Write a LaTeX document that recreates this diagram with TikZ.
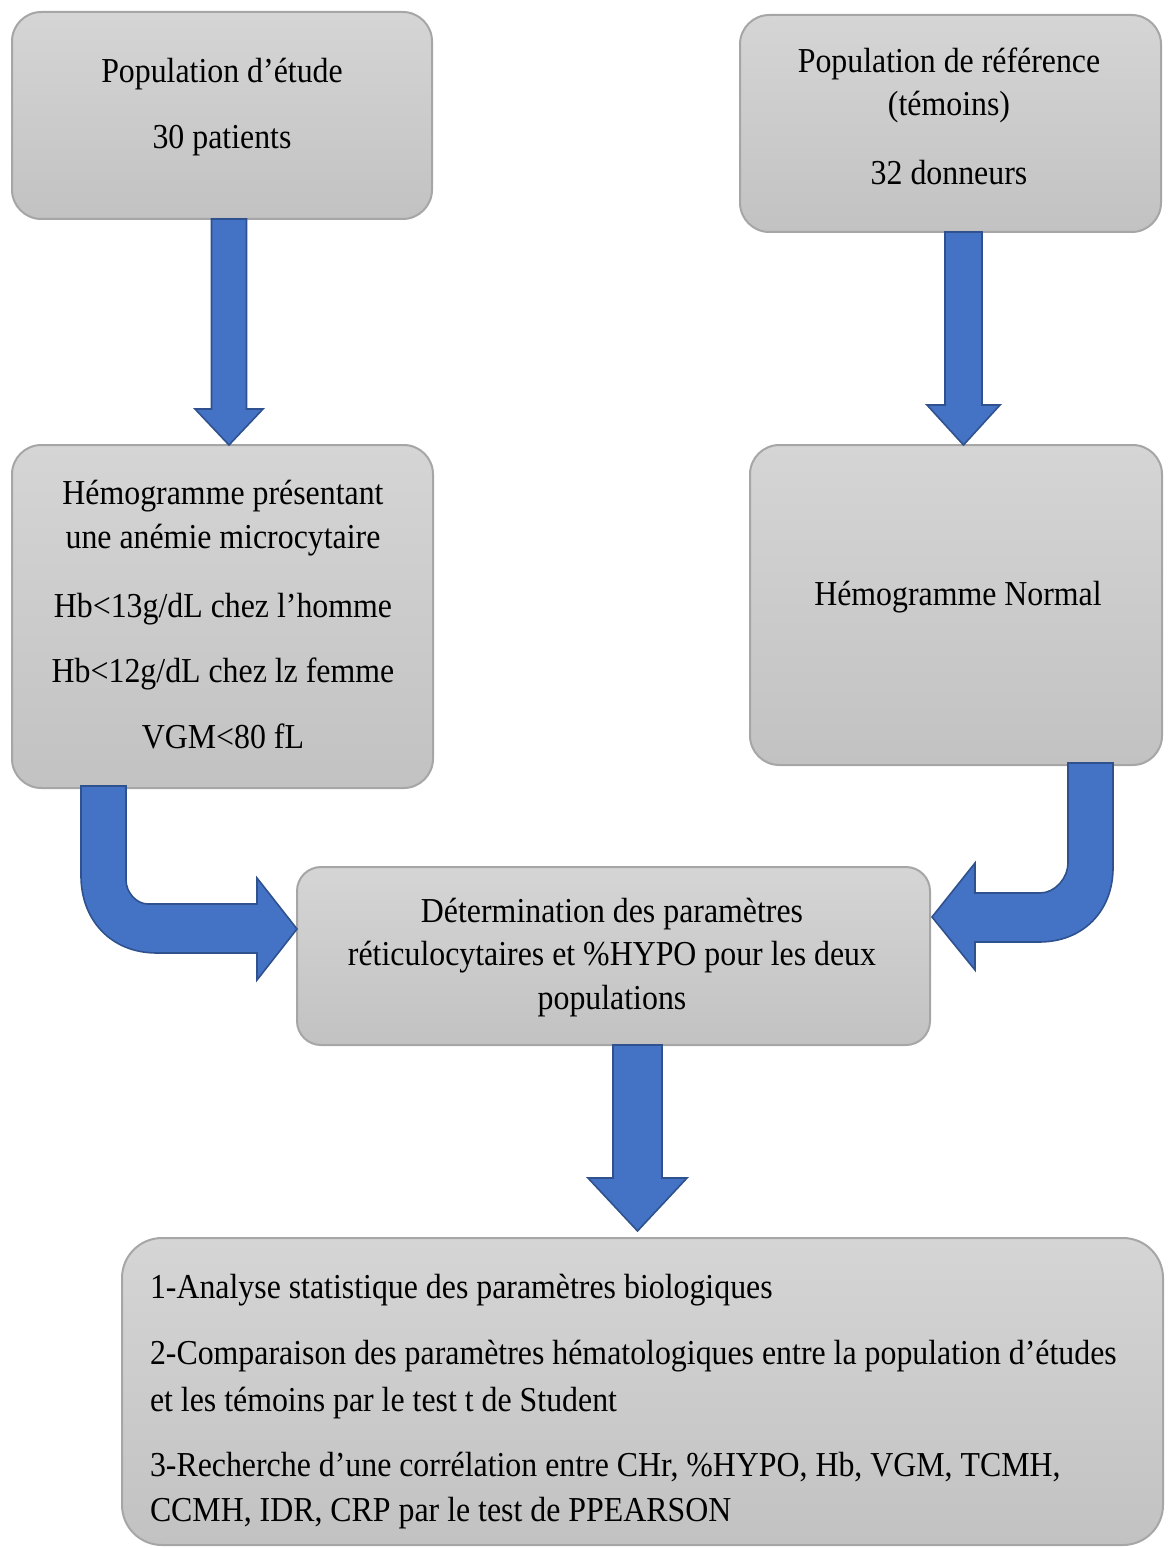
\documentclass[tikz,border=0pt]{standalone}
\usepackage{fontspec}
\setmainfont{Liberation Serif}[FakeStretch=0.91]
\usetikzlibrary{calc}
\definecolor{boxtop}{HTML}{D5D5D5}
\definecolor{boxbot}{HTML}{C2C2C2}
\definecolor{boxline}{HTML}{A6A6A6}
\definecolor{arrfill}{HTML}{4472C4}
\definecolor{arrline}{HTML}{2F528F}
\tikzset{
  box/.style={draw=boxline, line width=1.5pt, top color=boxtop, bottom color=boxbot,
    rounded corners=22pt, inner sep=0pt, outer sep=0pt},
  txt/.style={inner sep=0pt, outer sep=0pt, anchor=base,
    font=\fontsize{26.25pt}{31pt}\selectfont},
  ltxt/.style={txt, anchor=base west},
  barrow/.style={fill=arrfill, draw=arrline, line width=1.2pt, line join=miter},
}
\newcommand\downblock[5]{%
  \draw[barrow] ($(#1)+(-#3,0)$) -- ($(#2)+(-#3,-#5)$) -- ($(#2)+(-#4,-#5)$) -- (#2)
    -- ($(#2)+(#4,-#5)$) -- ($(#2)+(#3,-#5)$) -- ($(#1)+(#3,0)$) -- cycle;}
\begin{document}
\begin{tikzpicture}[x=0.75pt,y=-0.75pt]
\useasboundingbox (0,0) rectangle (1167,1548);
% boxes
\node[box, minimum width=420*0.75pt, minimum height=207*0.75pt] (b1) at (222,115.5) {};
\node[box, minimum width=421*0.75pt, minimum height=217*0.75pt] (b2) at (950.5,123.5) {};
\node[box, minimum width=421*0.75pt, minimum height=343*0.75pt] (b3) at (222.5,616.5) {};
\node[box, minimum width=412*0.75pt, minimum height=320*0.75pt] (b4) at (956,605) {};
\node[box, minimum width=633*0.75pt, minimum height=178*0.75pt, rounded corners=18pt] (b5) at (613.5,956) {};
\node[box, minimum width=1041*0.75pt, minimum height=307*0.75pt, rounded corners=30pt] (b6) at (642.5,1391.5) {};
% texts
\node[txt] (t11) at (222,83) {Population d’étude};
\node[txt] (t12) at (222,149) {30 patients};
\node[txt] (t21) at (949,73) {Population de référence};
\node[txt] (t22) at (949,116) {(témoins)};
\node[txt] (t23) at (949,185) {32 donneurs};
\node[txt] (t31) at (223,504) {Hémogramme présentant};
\node[txt] (t32) at (223,548) {une anémie microcytaire};
\node[txt] (t33) at (223,617) {Hb<13g/dL chez l’homme};
\node[txt] (t34) at (223,682) {Hb<12g/dL chez lz femme};
\node[txt] (t35) at (223,748) {VGM<80 fL};
\node[txt] (t41) at (958,605) {Hémogramme Normal};
\node[txt] (t51) at (612,922) {Détermination des paramètres};
\node[txt] (t52) at (612,965) {réticulocytaires et \%HYPO pour les deux};
\node[txt] (t53) at (612,1009) {populations};
\node[ltxt] (t61) at (150,1298) {1-Analyse statistique des paramètres biologiques};
\node[ltxt] (t62) at (150,1364) {2-Comparaison des paramètres hématologiques entre la population d’études};
\node[ltxt] (t63) at (150,1411) {et les témoins par le test t de Student};
\node[ltxt] (t64) at (150,1476) {3-Recherche d’une corrélation entre CHr, \%HYPO, Hb, VGM, TCMH,};
\node[ltxt] (t65) at (150,1521) {CCMH, IDR, CRP par le test de PPEARSON};
% straight block arrows
\coordinate (a1s) at ($(b1.south)+(7,0)$);
\coordinate (a1e) at ($(b3.north)+(6.5,0)$);
\downblock{a1s}{a1e}{17.5}{34}{36}
\coordinate (a2s) at ($(b2.south)+(13,0)$);
\coordinate (a2e) at ($(b4.north)+(7.5,0)$);
\downblock{a2s}{a2e}{18.5}{36.5}{40}
\coordinate (a3s) at ($(b5.south)+(24,0)$);
\coordinate (a3e) at ($(b6.north)+(-5,-7)$);
\downblock{a3s}{a3e}{24.5}{49.5}{53}
% left bent arrow
\coordinate (c1) at ($(b3.south)+(-119,-2)$);
\coordinate (e1) at ($(b5.west)+(0,-27)$);
\draw[barrow] ($(c1)+(-22.5,0)$) -- ($(c1)+(-22.5,90)$)
  .. controls ($(c1)+(-22.5,133)$) and ($(e1)+(-187,24)$) .. ($(e1)+(-140,24)$)
  -- ($(e1)+(-40,24)$) -- ($(e1)+(-40,51)$) -- (e1) -- ($(e1)+(-40,-51)$)
  -- ($(e1)+(-40,-25)$) -- ($(e1)+(-149,-25)$)
  .. controls ($(e1)+(-161,-25)$) and ($(c1)+(22.5,106)$) .. ($(c1)+(22.5,94)$)
  -- ($(c1)+(22.5,0)$) -- cycle;
% right bent arrow
\coordinate (c2) at ($(b4.south)+(134.5,-2)$);
\coordinate (e2) at ($(b5.east)+(2,-39)$);
\draw[barrow] ($(c2)+(22.5,0)$) -- ($(c2)+(22.5,105)$)
  .. controls ($(c2)+(22.5,147)$) and ($(e2)+(152,25)$) .. ($(e2)+(107,25)$)
  -- ($(e2)+(43,25)$) -- ($(e2)+(43,53)$) -- (e2) -- ($(e2)+(43,-54)$)
  -- ($(e2)+(43,-24)$) -- ($(e2)+(108,-24)$)
  .. controls ($(e2)+(123,-24)$) and ($(c2)+(-22.5,115)$) .. ($(c2)+(-22.5,100)$)
  -- ($(c2)+(-22.5,0)$) -- cycle;
\end{tikzpicture}
\end{document}
